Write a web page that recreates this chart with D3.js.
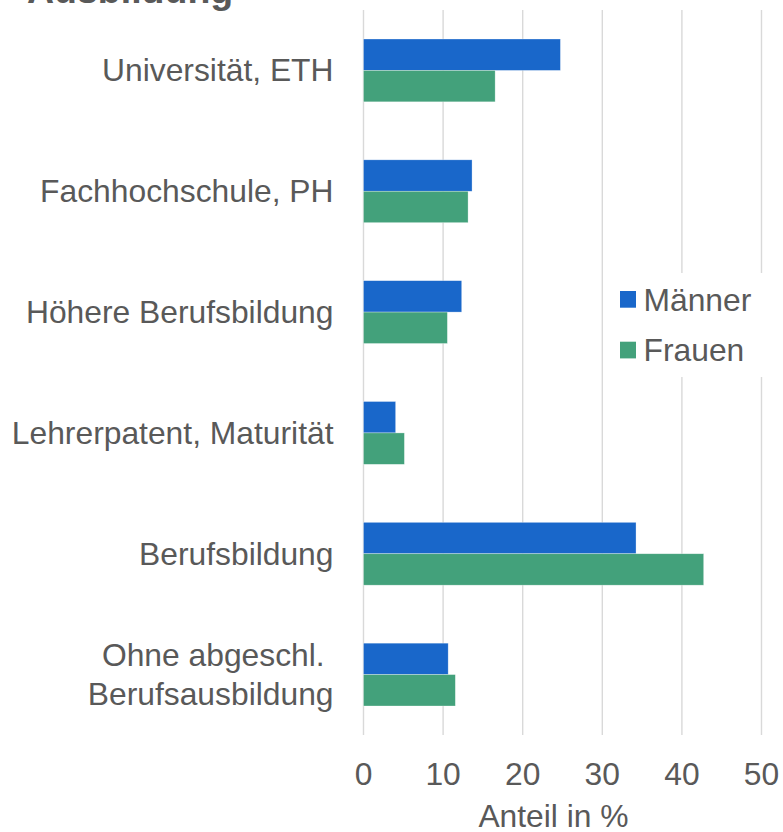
<!DOCTYPE html>
<html>
<head>
<meta charset="utf-8">
<script src="https://cdn.jsdelivr.net/npm/d3@7"></script>
<style>
  body { margin: 0; background: #fff; }
  text { font-family: "Liberation Sans", Arial, sans-serif; fill: #595959; }
</style>
</head>
<body>
<script>
/* Data. */
const categories = [
  ["Universität, ETH"],
  ["Fachhochschule, PH"],
  ["Höhere Berufsbildung"],
  ["Lehrerpatent, Maturität"],
  ["Berufsbildung"],
  ["Ohne abgeschl. ", "Berufsausbildung"]
]
const series = ["Männer", "Frauen"]
const maenner = [24.8, 13.7, 12.4, 4.1, 34.3, 10.7]
const frauen = [16.6, 13.2, 10.6, 5.2, 42.8, 11.6]
const xTicks = [0, 10, 20, 30, 40, 50]

const colors = { "Männer": "#1967CA", "Frauen": "#43A17B" }

/* Define svg-size. */
const width = 783
const height = 832
const fontSize = 31.8

const svg = d3.select("body")
  .append("svg")
  .attr("width", width)
  .attr("height", height)

/* Scales. */
const plotTop = 10
const plotBottom = 735

const x = d3.scaleLinear()
  .domain([0, 50])
  .range([363, 761])

const y = d3.scaleBand()
  .domain(d3.range(categories.length))
  .range([plotTop, plotBottom])
  .paddingInner(0.48)
  .paddingOuter(0.24)

const ySub = d3.scaleBand()
  .domain(series)
  .range([0, y.bandwidth()])

/* Grid + x axis. */
const xAxis = svg.append("g")
  .attr("transform", `translate(0,${plotBottom})`)
  .call(d3.axisBottom(x)
    .tickValues(xTicks)
    .tickSize(-(plotBottom - plotTop))
    .tickPadding(27.5))

xAxis.select(".domain").remove()
xAxis.selectAll("line")
  .attr("stroke", "#d9d9d9")
  .attr("stroke-width", 1.4)
xAxis.selectAll("text")
  .style("font-size", fontSize + "px")
  .style("font-family", "'Liberation Sans', Arial, sans-serif")
  .attr("fill", "#595959")

/* Bars. */
const rows = categories.map((c, i) => ({ i, "Männer": maenner[i], "Frauen": frauen[i] }))

const groups = svg.append("g")
  .selectAll("g")
  .data(rows)
  .join("g")
  .attr("transform", d => `translate(0,${y(d.i)})`)

groups.selectAll("rect")
  .data(d => series.map(s => ({ s, v: d[s] })))
  .join("rect")
  .attr("x", x(0) + 0.5)
  .attr("y", d => ySub(d.s))
  .attr("width", d => x(d.v) - x(0) - 0.5)
  .attr("height", ySub.bandwidth())
  .attr("fill", d => colors[d.s])
  .attr("stroke", "#ffffff")
  .attr("stroke-opacity", 0.5)
  .attr("stroke-width", 0.6)

/* Category labels. */
const lineHeight = 38.5
const labels = svg.append("g")
  .selectAll("text")
  .data(categories)
  .join("text")
  .attr("text-anchor", "end")
  .style("font-size", fontSize + "px")
  .style("white-space", "pre")
  .attr("xml:space", "preserve")

labels.selectAll("tspan")
  .data((d, i) => d.map((line, k) => ({ line, k, n: d.length, i })))
  .join("tspan")
  .attr("x", 333.5)
  .attr("y", d => y(d.i) + y.bandwidth() / 2 + 11 + (d.k - (d.n - 1) / 2) * lineHeight)
  .text(d => d.line)

/* Legend. */
const legend = svg.append("g")

legend.append("rect")
  .attr("x", 606)
  .attr("y", 273)
  .attr("width", 170)
  .attr("height", 104)
  .attr("fill", "#ffffff")

const legendItems = legend.selectAll("g")
  .data(series)
  .join("g")
  .attr("transform", (d, i) => `translate(620,${291 + i * 50.7})`)

legendItems.append("rect")
  .attr("width", 16)
  .attr("height", 16.7)
  .attr("fill", d => colors[d])

legendItems.append("text")
  .attr("x", 23.5)
  .attr("y", 19.5)
  .style("font-size", fontSize + "px")
  .text(d => d)

/* Axis title and chart title. */
svg.append("text")
  .attr("x", 553.5)
  .attr("y", 826.5)
  .attr("text-anchor", "middle")
  .style("font-size", fontSize + "px")
  .text("Anteil in %")

svg.append("text")
  .attr("x", 27)
  .attr("y", 3)
  .style("font-size", "37.5px")
  .style("font-weight", "bold")
  .text("Ausbildung")
</script>
</body>
</html>
